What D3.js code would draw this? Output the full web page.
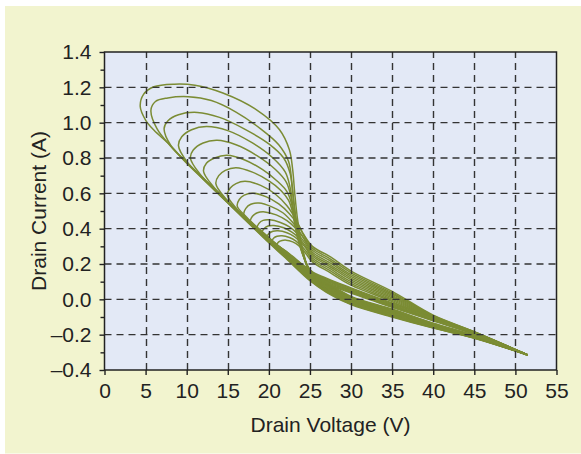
<!DOCTYPE html>
<html>
<head>
<meta charset="utf-8">
<script src="https://cdn.jsdelivr.net/npm/d3@7.9.0/dist/d3.min.js"></script>
<style>
  body { margin: 0; background: #fff; }
  svg text { font-family: "Liberation Sans", Arial, sans-serif; fill: #222; }
</style>
</head>
<body>
<svg id="chart" width="581" height="454"></svg>
<script>
// axis ticks
const xTicks = [0, 5, 10, 15, 20, 25, 30, 35, 40, 45, 50, 55];
const yTicks = [-0.4, -0.2, 0.0, 0.2, 0.4, 0.6, 0.8, 1.0, 1.2, 1.4];
const yTickLabels = ['–0.4', '–0.2', '0.0', '0.2', '0.4', '0.6', '0.8', '1.0', '1.2', '1.4'];
const yMinorTicks = [-0.3, -0.1, 0.1, 0.3, 0.5, 0.7, 0.9, 1.1, 1.3];

// load-line loops, [drain voltage, drain current], outer to inner
const tailEnd = [51.5, -0.315];

const loop1 = [tailEnd, [45, -0.22], [40, -0.163], [35, -0.10], [30, -0.03], [27, 0.04], [25, 0.105], [22, 0.235], [20, 0.32], [17, 0.455], [15, 0.545], [12, 0.68], [10, 0.77], [8, 0.872], [6, 0.958], [5.0, 1.015],
  [4.35, 1.09], [4.75, 1.16], [6.0, 1.203], [8.5, 1.218], [11, 1.212], [14.4, 1.168], [18.5, 1.073], [21.3, 0.96], [22.5, 0.846], [22.9, 0.733], [23.15, 0.60], [23.5, 0.45], [24.1, 0.29], [24.9, 0.17], [27, 0.12], [30, 0.065], [35, -0.02], [40, -0.10], [45, -0.185], tailEnd];

const loop2 = [tailEnd, [45, -0.219], [40, -0.161], [35, -0.097], [30, -0.027], [27, 0.044], [25, 0.109], [22, 0.238], [20, 0.323], [17, 0.457], [15, 0.547], [12, 0.682], [10, 0.774], [8, 0.87], [6.4, 0.965],
  [5.65, 1.07], [6.2, 1.12], [7.7, 1.14], [10.2, 1.147], [13, 1.125], [16, 1.06], [19, 0.965], [21.2, 0.875], [22.4, 0.78], [22.8, 0.66], [23.1, 0.53], [23.5, 0.40], [24.1, 0.27], [24.9, 0.165], [27, 0.115], [30, 0.06], [35, -0.025], [40, -0.105], [45, -0.188], tailEnd];

const loop3 = [tailEnd, [45, -0.218], [40, -0.159], [35, -0.094], [30, -0.023], [27, 0.048], [25, 0.113], [22, 0.241], [20, 0.326], [17, 0.459], [15, 0.549], [12, 0.684], [10, 0.776], [8.1, 0.868],
  [7.25, 0.965], [7.7, 1.01], [9, 1.045], [11.3, 1.058], [14, 1.03], [17, 0.965], [20, 0.88], [21.8, 0.80], [22.6, 0.71], [22.9, 0.60], [23.2, 0.48], [23.7, 0.35], [24.3, 0.245], [25, 0.16], [27, 0.11], [30, 0.055], [35, -0.03], [40, -0.11], [45, -0.19], tailEnd];

const loop4 = [tailEnd, [45, -0.217], [40, -0.157], [35, -0.091], [30, -0.02], [27, 0.052], [25, 0.117], [22, 0.244], [20, 0.329], [17, 0.461], [15, 0.551], [12, 0.686], [10, 0.781],
  [9.0, 0.87], [9.4, 0.92], [10.6, 0.96], [12.4, 0.978], [15, 0.955], [18, 0.885], [20.5, 0.80], [22, 0.72], [22.6, 0.63], [22.9, 0.53], [23.3, 0.42], [23.8, 0.31], [24.4, 0.22], [25.1, 0.155], [27, 0.105], [30, 0.05], [35, -0.035], [40, -0.113], [45, -0.192], tailEnd];

const loop5 = [tailEnd, [45, -0.216], [40, -0.156], [35, -0.088], [30, -0.017], [27, 0.056], [25, 0.121], [22, 0.247], [20, 0.332], [17, 0.463], [15, 0.553], [11.6, 0.71],
  [10.45, 0.80], [10.8, 0.845], [12, 0.885], [13.7, 0.90], [16, 0.875], [18.5, 0.815], [20.8, 0.735], [22.1, 0.665], [22.7, 0.58], [23.0, 0.49], [23.4, 0.39], [23.9, 0.29], [24.5, 0.21], [25.2, 0.15], [27, 0.10], [30, 0.045], [35, -0.038], [40, -0.116], [45, -0.194], tailEnd];

const loop6 = [tailEnd, [45, -0.215], [40, -0.154], [35, -0.085], [30, -0.013], [27, 0.06], [25, 0.125], [22, 0.25], [20, 0.335], [17, 0.466], [15, 0.556], [13.2, 0.64],
  [12.05, 0.725], [12.4, 0.77], [13.4, 0.80], [14.9, 0.815], [17, 0.79], [19.2, 0.735], [21, 0.67], [22.2, 0.61], [22.8, 0.535], [23.1, 0.45], [23.5, 0.36], [24, 0.275], [24.6, 0.2], [25.3, 0.145], [27, 0.095], [30, 0.04], [35, -0.042], [40, -0.119], [45, -0.196], tailEnd];

const loop7 = [tailEnd, [45, -0.214], [40, -0.152], [35, -0.082], [30, -0.01], [27, 0.064], [25, 0.129], [22, 0.253], [20, 0.338], [17, 0.468], [14.7, 0.572],
  [13.55, 0.655], [13.9, 0.70], [14.7, 0.73], [16, 0.745], [18, 0.72], [20, 0.67], [21.5, 0.615], [22.4, 0.56], [22.9, 0.49], [23.2, 0.41], [23.6, 0.33], [24.1, 0.255], [24.7, 0.19], [25.4, 0.14], [27, 0.09], [30, 0.035], [35, -0.045], [40, -0.122], [45, -0.198], tailEnd];

const loop8 = [tailEnd, [45, -0.213], [40, -0.151], [35, -0.079], [30, -0.007], [27, 0.068], [25, 0.133], [22, 0.256], [20, 0.341], [17, 0.47], [16.1, 0.512],
  [14.95, 0.59], [15.3, 0.63], [16, 0.655], [17.1, 0.668], [19, 0.645], [20.8, 0.595], [22.2, 0.53], [23.2, 0.46], [24.2, 0.37], [25.3, 0.30], [27.5, 0.24], [30, 0.16], [35, 0.045], [40, -0.09], [45, -0.183], tailEnd];

const loop9 = [tailEnd, [45, -0.212], [40, -0.149], [35, -0.076], [30, -0.004], [27, 0.072], [25, 0.137], [22, 0.259], [20, 0.344], [17.3, 0.465],
  [16.15, 0.528], [16.4, 0.565], [17.0, 0.59], [18.1, 0.60], [19.7, 0.58], [21.2, 0.54], [22.5, 0.485], [23.5, 0.425], [24.4, 0.35], [25.3, 0.289], [27.5, 0.228], [30, 0.15], [35, 0.037], [40, -0.093], [45, -0.184], tailEnd];

const loop10 = [tailEnd, [45, -0.211], [40, -0.147], [35, -0.073], [30, -0.001], [27, 0.076], [25, 0.141], [22, 0.262], [20, 0.347], [18.1, 0.428],
  [16.95, 0.48], [17.2, 0.515], [17.8, 0.538], [18.8, 0.545], [20.3, 0.525], [21.7, 0.49], [22.8, 0.44], [23.7, 0.385], [24.5, 0.33], [25.3, 0.278], [27.5, 0.217], [30, 0.14], [35, 0.03], [40, -0.096], [45, -0.186], tailEnd];

const loop11 = [tailEnd, [45, -0.21], [40, -0.145], [35, -0.07], [30, 0.002], [27, 0.08], [25, 0.145], [22, 0.265], [20, 0.35], [18.9, 0.395],
  [17.75, 0.44], [18.0, 0.47], [18.6, 0.49], [19.5, 0.495], [20.9, 0.478], [22.2, 0.445], [23.2, 0.405], [24.1, 0.355], [25.3, 0.267], [27.5, 0.205], [30, 0.13], [35, 0.022], [40, -0.099], [45, -0.187], tailEnd];

const loop12 = [tailEnd, [45, -0.209], [40, -0.143], [35, -0.067], [30, 0.005], [27, 0.084], [25, 0.149], [22, 0.268], [19.7, 0.36],
  [18.55, 0.40], [18.8, 0.43], [19.3, 0.447], [20.1, 0.45], [21.4, 0.435], [22.5, 0.41], [23.4, 0.375], [24.3, 0.325], [25.3, 0.256], [27.5, 0.194], [30, 0.12], [35, 0.015], [40, -0.102], [45, -0.189], tailEnd];

const loop13 = [tailEnd, [45, -0.208], [40, -0.141], [35, -0.064], [30, 0.008], [27, 0.088], [25, 0.153], [22, 0.271], [20.3, 0.335],
  [19.15, 0.375], [19.4, 0.40], [19.9, 0.415], [20.6, 0.418], [21.8, 0.405], [22.8, 0.38], [23.6, 0.35], [24.4, 0.305], [25.3, 0.245], [27.5, 0.183], [30, 0.11], [35, 0.008], [40, -0.105], [45, -0.19], tailEnd];

const loop14 = [tailEnd, [45, -0.207], [40, -0.139], [35, -0.061], [30, 0.011], [27, 0.092], [25, 0.157], [22, 0.274], [20.9, 0.31],
  [19.75, 0.348], [20.0, 0.372], [20.5, 0.385], [21.1, 0.388], [22.2, 0.377], [23.1, 0.355], [23.8, 0.327], [24.5, 0.29], [25.3, 0.234], [27.5, 0.172], [30, 0.10], [35, 0.001], [40, -0.108], [45, -0.191], tailEnd];

const loop15 = [tailEnd, [45, -0.206], [40, -0.137], [35, -0.058], [30, 0.014], [27, 0.096], [25, 0.161], [22.5, 0.258], [21.5, 0.29],
  [20.35, 0.325], [20.6, 0.347], [21.0, 0.357], [21.6, 0.36], [22.5, 0.35], [23.3, 0.33], [24.0, 0.3], [24.6, 0.268], [25.3, 0.223], [27.5, 0.161], [30, 0.09], [35, -0.006], [40, -0.111], [45, -0.193], tailEnd];

const loop16 = [tailEnd, [45, -0.205], [40, -0.135], [35, -0.055], [30, 0.017], [27, 0.10], [25, 0.165], [22.1, 0.265],
  [20.95, 0.305], [21.2, 0.325], [21.6, 0.333], [22.1, 0.335], [22.9, 0.325], [23.6, 0.305], [24.4, 0.265], [25.3, 0.212], [27.5, 0.15], [30, 0.08], [35, -0.013], [40, -0.114], [45, -0.194], tailEnd];

const loops = [loop1, loop2, loop3, loop4, loop5, loop6, loop7, loop8,
  loop9, loop10, loop11, loop12, loop13, loop14, loop15, loop16];

const svg = d3.select('#chart');

// background panel
svg.append('rect')
  .attr('x', 5).attr('y', 6)
  .attr('width', 576).attr('height', 447.5)
  .attr('fill', '#f2f4cf');

const x = d3.scaleLinear().domain([0, 55]).range([104.5, 556.5]);
const y = d3.scaleLinear().domain([-0.4, 1.4]).range([370, 52]);

// plot area
svg.append('rect')
  .attr('x', x(0)).attr('y', y(1.4))
  .attr('width', x(55) - x(0)).attr('height', y(-0.4) - y(1.4))
  .attr('fill', '#e3e9f6');

// curves
const line = d3.line()
  .x(d => x(d[0]))
  .y(d => y(d[1]))
  .curve(d3.curveCatmullRom.alpha(0.5));

svg.append('g')
  .selectAll('path')
  .data(loops)
  .enter()
  .append('path')
  .attr('d', line)
  .attr('fill', 'none')
  .attr('stroke', '#7b8c34')
  .attr('stroke-width', 1.5)
  .attr('stroke-linejoin', 'round');

// dashed grid
const grid = svg.append('g')
  .attr('stroke', '#333')
  .attr('stroke-width', 1.4)
  .attr('stroke-dasharray', '7,5');

grid.selectAll('line.v')
  .data(xTicks.slice(1, -1))
  .enter()
  .append('line')
  .attr('class', 'v')
  .attr('x1', d => Math.round(x(d)) + 0.5).attr('x2', d => Math.round(x(d)) + 0.5)
  .attr('y1', y(-0.4)).attr('y2', y(1.4));

grid.selectAll('line.h')
  .data(yTicks.slice(1, -1))
  .enter()
  .append('line')
  .attr('class', 'h')
  .attr('y1', d => y(d)).attr('y2', d => y(d))
  .attr('x1', x(0)).attr('x2', x(55));

// axes
const xAxis = svg.append('g')
  .attr('transform', `translate(0,${y(-0.4)})`)
  .call(d3.axisBottom(x).tickValues(xTicks).tickSize(5).tickPadding(8));

const yAxis = svg.append('g')
  .attr('transform', `translate(${x(0)},0)`)
  .call(d3.axisLeft(y).tickValues(yTicks).tickSize(5).tickPadding(8)
    .tickFormat((d, i) => yTickLabels[i]));

const yMinor = svg.append('g')
  .attr('transform', `translate(${x(0)},0)`)
  .call(d3.axisLeft(y).tickValues(yMinorTicks).tickSize(4).tickFormat(''));

[xAxis, yAxis, yMinor].forEach(g => {
  g.select('.domain').remove();
  g.selectAll('.tick line').attr('stroke', '#222').attr('stroke-width', 1.4);
  g.selectAll('text')
    .attr('font-size', 21)
    .attr('font-family', '"Liberation Sans", Arial, sans-serif')
    .attr('fill', '#222');
});

// frame
svg.append('rect')
  .attr('x', x(0)).attr('y', y(1.4))
  .attr('width', x(55) - x(0)).attr('height', y(-0.4) - y(1.4))
  .attr('fill', 'none')
  .attr('stroke', '#222')
  .attr('stroke-width', 1.5);

// axis titles
svg.append('text')
  .attr('x', (x(0) + x(55)) / 2)
  .attr('y', 432)
  .attr('text-anchor', 'middle')
  .attr('font-size', 21)
  .text('Drain Voltage (V)');

svg.append('text')
  .attr('transform', `translate(46,${(y(-0.4) + y(1.4)) / 2}) rotate(-90)`)
  .attr('text-anchor', 'middle')
  .attr('font-size', 21)
  .text('Drain Current (A)');
</script>
</body>
</html>
